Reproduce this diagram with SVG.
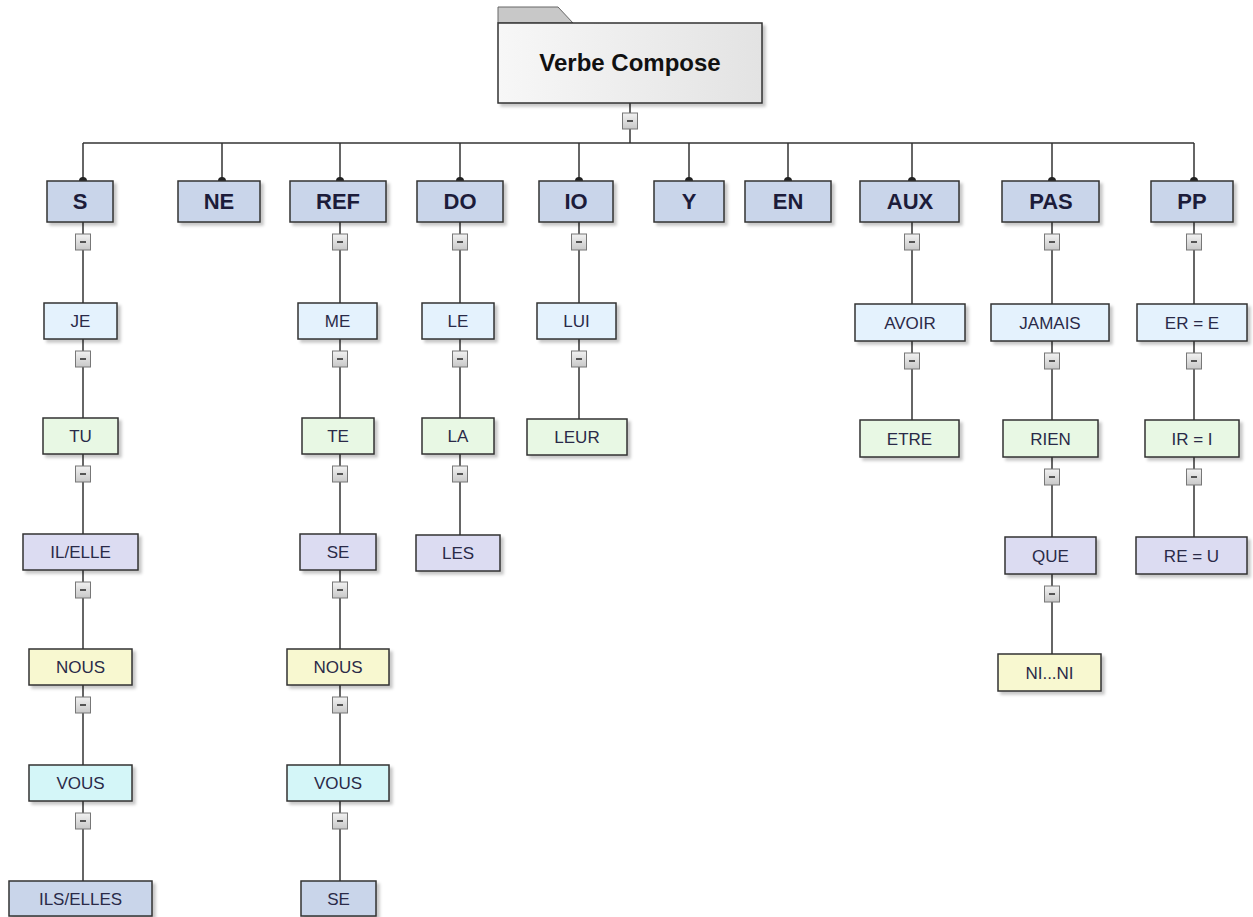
<svg xmlns="http://www.w3.org/2000/svg" width="1253" height="917" viewBox="0 0 1253 917">
<defs>
<linearGradient id="rootg" x1="0" y1="0" x2="1" y2="0"><stop offset="0" stop-color="#f7f7f7"/><stop offset="1" stop-color="#e3e3e3"/></linearGradient>
<linearGradient id="colg" x1="0" y1="0" x2="0" y2="1"><stop offset="0" stop-color="#f2f2f2"/><stop offset="1" stop-color="#c8c8c8"/></linearGradient>
<filter id="sh" x="-10%" y="-10%" width="130%" height="140%"><feDropShadow dx="3" dy="3" stdDeviation="1.5" flood-color="#000" flood-opacity="0.22"/></filter>
<g id="col"><rect x="-7.5" y="0" width="15" height="16" fill="url(#colg)" stroke="#777" stroke-width="1"/><line x1="-3" y1="8" x2="3" y2="8" stroke="#333" stroke-width="1.6"/></g>
</defs>
<style>
.ln{stroke:#333;stroke-width:1.5;fill:none}
.b{stroke:#333;stroke-width:1.5;filter:url(#sh)}
.l1{fill:#c9d5ea}
.r1{fill:#e4f2fd}
.r2{fill:#e8f8e4}
.r3{fill:#dcdcf2}
.r4{fill:#f8f8d0}
.r5{fill:#d4f6f8}
.r6{fill:#c9d5ea}
.t1{font-family:"Liberation Sans",Arial,sans-serif;font-weight:bold;font-size:22px;fill:#1c1c3a;text-anchor:middle}
.t2{font-family:"Liberation Sans",Arial,sans-serif;font-size:17px;fill:#2a2a48;text-anchor:middle}
.t0{font-family:"Liberation Sans",Arial,sans-serif;font-weight:bold;font-size:24px;fill:#111;text-anchor:middle}
</style>
<rect width="1253" height="917" fill="#fff"/>
<g id="connectors">
<line class="ln" x1="630" y1="103" x2="630" y2="143"/>
<line class="ln" x1="83" y1="143" x2="1194" y2="143"/>
<line class="ln" x1="83" y1="143" x2="83" y2="881"/>
<line class="ln" x1="222" y1="143" x2="222" y2="181"/>
<line class="ln" x1="340" y1="143" x2="340" y2="881"/>
<line class="ln" x1="460" y1="143" x2="460" y2="535"/>
<line class="ln" x1="579" y1="143" x2="579" y2="419"/>
<line class="ln" x1="689" y1="143" x2="689" y2="181"/>
<line class="ln" x1="788" y1="143" x2="788" y2="181"/>
<line class="ln" x1="912" y1="143" x2="912" y2="420"/>
<line class="ln" x1="1052" y1="143" x2="1052" y2="654"/>
<line class="ln" x1="1194" y1="143" x2="1194" y2="537"/>
<g fill="#222">
<path d="M79,181 a4,4 0 0 1 8,0 z"/>
<path d="M218,181 a4,4 0 0 1 8,0 z"/>
<path d="M336,181 a4,4 0 0 1 8,0 z"/>
<path d="M456,181 a4,4 0 0 1 8,0 z"/>
<path d="M575,181 a4,4 0 0 1 8,0 z"/>
<path d="M685,181 a4,4 0 0 1 8,0 z"/>
<path d="M784,181 a4,4 0 0 1 8,0 z"/>
<path d="M908,181 a4,4 0 0 1 8,0 z"/>
<path d="M1048,181 a4,4 0 0 1 8,0 z"/>
<path d="M1190,181 a4,4 0 0 1 8,0 z"/>
</g>
</g>
<g id="root">
<path d="M498,23 V7 H558 L573,23 Z" fill="#c8c8c8" stroke="#666" stroke-width="1"/>
<rect class="b" x="498" y="23" width="264" height="80" fill="url(#rootg)" stroke="#444"/>
<text class="t0" x="630" y="71">Verbe Compose</text>
<use href="#col" x="630" y="113"/>
</g>
<g id="n-S"><rect class="b l1" x="47" y="181" width="66" height="41"/><text class="t1" x="80" y="209">S</text><use href="#col" x="83" y="234"/></g>
<g id="n-NE"><rect class="b l1" x="178" y="181" width="82" height="41"/><text class="t1" x="219" y="209">NE</text></g>
<g id="n-REF"><rect class="b l1" x="290" y="181" width="96" height="41"/><text class="t1" x="338" y="209">REF</text><use href="#col" x="340" y="234"/></g>
<g id="n-DO"><rect class="b l1" x="417" y="181" width="86" height="41"/><text class="t1" x="460" y="209">DO</text><use href="#col" x="460" y="234"/></g>
<g id="n-IO"><rect class="b l1" x="539" y="181" width="74" height="41"/><text class="t1" x="576" y="209">IO</text><use href="#col" x="579" y="234"/></g>
<g id="n-Y"><rect class="b l1" x="654" y="181" width="70" height="41"/><text class="t1" x="689" y="209">Y</text></g>
<g id="n-EN"><rect class="b l1" x="745" y="181" width="86" height="41"/><text class="t1" x="788" y="209">EN</text></g>
<g id="n-AUX"><rect class="b l1" x="860" y="181" width="99" height="41"/><text class="t1" x="910" y="209">AUX</text><use href="#col" x="912" y="234"/></g>
<g id="n-PAS"><rect class="b l1" x="1002" y="181" width="97" height="41"/><text class="t1" x="1051" y="209">PAS</text><use href="#col" x="1052" y="234"/></g>
<g id="n-PP"><rect class="b l1" x="1151" y="181" width="82" height="41"/><text class="t1" x="1192" y="209">PP</text><use href="#col" x="1194" y="234"/></g>

<g id="n-JE"><rect class="b r1" x="44" y="303" width="73" height="36"/><text class="t2" x="80.5" y="327">JE</text><use href="#col" x="83" y="351"/></g>
<g id="n-TU"><rect class="b r2" x="43" y="418" width="75" height="36"/><text class="t2" x="80.5" y="442">TU</text><use href="#col" x="83" y="466"/></g>
<g id="n-ILELLE"><rect class="b r3" x="23" y="534" width="115" height="36"/><text class="t2" x="80.5" y="558">IL/ELLE</text><use href="#col" x="83" y="582"/></g>
<g id="n-NOUS1"><rect class="b r4" x="29" y="649" width="103" height="36"/><text class="t2" x="80.5" y="673">NOUS</text><use href="#col" x="83" y="697"/></g>
<g id="n-VOUS1"><rect class="b r5" x="29" y="765" width="103" height="36"/><text class="t2" x="80.5" y="789">VOUS</text><use href="#col" x="83" y="813"/></g>
<g id="n-ILSELLES"><rect class="b r6" x="9" y="881" width="143" height="35"/><text class="t2" x="80.5" y="905">ILS/ELLES</text></g>

<g id="n-ME"><rect class="b r1" x="298" y="303" width="79" height="36"/><text class="t2" x="337.5" y="327">ME</text><use href="#col" x="340" y="351"/></g>
<g id="n-TE"><rect class="b r2" x="302" y="418" width="72" height="36"/><text class="t2" x="338" y="442">TE</text><use href="#col" x="340" y="466"/></g>
<g id="n-SE1"><rect class="b r3" x="300" y="534" width="76" height="36"/><text class="t2" x="338" y="558">SE</text><use href="#col" x="340" y="582"/></g>
<g id="n-NOUS2"><rect class="b r4" x="287" y="649" width="102" height="36"/><text class="t2" x="338" y="673">NOUS</text><use href="#col" x="340" y="697"/></g>
<g id="n-VOUS2"><rect class="b r5" x="287" y="765" width="102" height="36"/><text class="t2" x="338" y="789">VOUS</text><use href="#col" x="340" y="813"/></g>
<g id="n-SE2"><rect class="b r6" x="301" y="881" width="75" height="35"/><text class="t2" x="338.5" y="905">SE</text></g>

<g id="n-LE"><rect class="b r1" x="422" y="303" width="72" height="36"/><text class="t2" x="458" y="327">LE</text><use href="#col" x="460" y="351"/></g>
<g id="n-LA"><rect class="b r2" x="422" y="418" width="72" height="36"/><text class="t2" x="458" y="442">LA</text><use href="#col" x="460" y="466"/></g>
<g id="n-LES"><rect class="b r3" x="416" y="535" width="84" height="36"/><text class="t2" x="458" y="559">LES</text></g>

<g id="n-LUI"><rect class="b r1" x="537" y="303" width="79" height="36"/><text class="t2" x="576.5" y="327">LUI</text><use href="#col" x="579" y="351"/></g>
<g id="n-LEUR"><rect class="b r2" x="527" y="419" width="100" height="36"/><text class="t2" x="577" y="443">LEUR</text></g>

<g id="n-AVOIR"><rect class="b r1" x="855" y="304" width="110" height="37"/><text class="t2" x="910" y="328.5">AVOIR</text><use href="#col" x="912" y="353"/></g>
<g id="n-ETRE"><rect class="b r2" x="860" y="420" width="99" height="37"/><text class="t2" x="909.5" y="444.5">ETRE</text></g>

<g id="n-JAMAIS"><rect class="b r1" x="991" y="304" width="118" height="37"/><text class="t2" x="1050" y="328.5">JAMAIS</text><use href="#col" x="1052" y="353"/></g>
<g id="n-RIEN"><rect class="b r2" x="1003" y="420" width="95" height="37"/><text class="t2" x="1050.5" y="444.5">RIEN</text><use href="#col" x="1052" y="469"/></g>
<g id="n-QUE"><rect class="b r3" x="1005" y="537" width="91" height="37"/><text class="t2" x="1050.5" y="561.5">QUE</text><use href="#col" x="1052" y="586"/></g>
<g id="n-NINI"><rect class="b r4" x="998" y="654" width="103" height="37"/><text class="t2" x="1049.5" y="678.5">NI...NI</text></g>

<g id="n-ERE"><rect class="b r1" x="1137" y="304" width="110" height="37"/><text class="t2" x="1192" y="328.5">ER = E</text><use href="#col" x="1194" y="353"/></g>
<g id="n-IRI"><rect class="b r2" x="1145" y="420" width="94" height="37"/><text class="t2" x="1192" y="444.5">IR = I</text><use href="#col" x="1194" y="469"/></g>
<g id="n-REU"><rect class="b r3" x="1136" y="537" width="111" height="37"/><text class="t2" x="1191.5" y="561.5">RE = U</text></g>
</svg>
